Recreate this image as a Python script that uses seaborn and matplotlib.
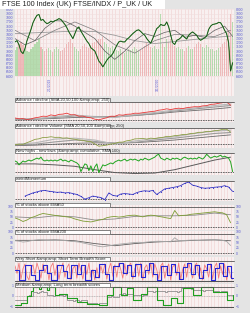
import numpy as np
import pandas as pd
import matplotlib
matplotlib.use("Agg")
import matplotlib.pyplot as plt
from matplotlib.patches import Rectangle
from matplotlib.lines import Line2D
import seaborn as sns

# ---- values ----
title = "FTSE 100 Index (UK) FTSE/INDX / P_UK / UK"
panel_titles = ["Advance / decline (SMA 20,50,100 &amp;amp; 250)",
                "Advance / decline Volume (SMA 20,50,100 &amp;amp; 250)",
                "New highs - new lows (&amp;amp; cumulative, SMA 100)",
                "weirdMomentum",
                "% of stocks above EMA50",
                "% of stocks above EMA200",
                "Very Short &amp;amp; Short Term Breadth Score",
                "Medium &amp;amp; Long term breadth scores"]
date_labels = ["2/1/2019", "1/1/2020"]
date_idx = [17.5, 71.5]

price = [7220, 7250, 7150, 6990, 6940, 7060, 7250, 7380, 7520, 7680,
         7780, 7860, 7880, 7740, 7760, 7700, 7660, 7680, 7720, 7700,
         7730, 7750, 7780, 7760, 7700, 7640, 7560, 7460, 7380, 7300,
         7420, 7540, 7580, 7480, 7400, 7320, 7240, 7180, 7080, 7040,
         7000, 6880, 6760, 6700, 6620, 6700, 6780, 6840, 6880, 6940,
         7040, 7140, 7220, 7240, 7220, 7220, 7280, 7320, 7370, 7420,
         7460, 7500, 7510, 7470, 7420, 7380, 7300, 7240, 7190, 7300,
         7420, 7540, 7580, 7640, 7620, 7620, 7700, 7580, 7380, 7200,
         7160, 7260, 7280, 7320, 7380, 7330, 7290, 7380, 7430, 7460,
         7420, 7380, 7300, 7260, 7290, 7320, 7360, 7520, 7600, 7640,
         7650, 7660, 7690, 7680, 7600, 7500, 7420, 7200, 6520, 6720]
volume = [620, 700, 760, 820, 740, 650, 600, 580, 640, 700,
          760, 820, 900, 700, 650, 600, 640, 680, 620, 580,
          640, 700, 660, 600, 620, 680, 760, 820, 880, 800,
          700, 640, 600, 660, 720, 760, 700, 680, 740, 800,
          820, 860, 900, 880, 940, 820, 760, 700, 680, 720,
          660, 620, 600, 640, 580, 560, 600, 640, 620, 660,
          700, 640, 600, 620, 680, 720, 800, 760, 700, 680,
          720, 640, 660, 1480, 760, 700, 900, 820, 880, 760,
          720, 680, 700, 660, 640, 600, 680, 720, 660, 640,
          700, 760, 820, 780, 700, 680, 740, 700, 660, 640,
          600, 620, 680, 700, 760, 820, 900, 1100, 1500, 1300]
ma_short = [7300, 7150, 7250, 7550, 7730, 7720, 7600, 7450, 7300, 7000, 6800, 7000,
            7250, 7420, 7350, 7450, 7500, 7330, 7380, 7330, 7500, 7600, 7350]
ma_mid = [7500, 7250, 7500, 7700, 7500, 7150, 6950, 7250, 7400, 7380, 7350, 7500]
ma_long = [7420, 7440, 7460, 7480, 7470, 7380, 7250, 7180, 7230, 7280, 7330, 7360]

ad_line = [4, 3.2, 3.4, 2.4, 3.1, 4.2, 4.8, 5.8, 5.6, 7.1,
           6.3, 7.6, 7.9, 8.8, 7.2, 7.3, 5.8, 5.9, 4.7, 4.2,
           2.8, 2.2, 3.3, 4.3, 5.8, 5.7, 7.2, 6.8, 7.7, 7.9,
           8.8, 8.7, 9.3, 9.8, 10.4, 10.8, 11.8, 12.3, 13.2, 12.4,
           13.3, 13.8, 13.4, 14.3, 14.8, 15.3, 15.2, 16.1, 16.4, 17.6,
           17.9, 18.7, 19.3, 20.1, 16.8]
ad_ma250 = [2, 2.8, 3.6, 4.5, 5, 5.5, 6.5, 8, 10, 11.5, 13, 14.5]
ad_ma100 = [3, 3, 4.5, 6, 5.5, 5, 6.5, 8.5, 11, 13, 15, 16.5]
ad_ma50 = [3.5, 3.2, 5.5, 7, 5, 4.5, 7.5, 9.5, 12, 14, 16.5, 18]

adv_line = [3.0, 3.6, 3.4, 5.2, 6.8, 8.7, 9.3, 10.7, 10.8, 11.5,
            10.8, 10.9, 10.0, 10.3, 9.3, 8.8, 8.0, 7.7, 6.6, 6.4,
            3.8, 1.4, 2.0, 2.6, 3.7, 4.3, 5.7, 5.8, 7.2, 7.8,
            9.2, 9.4, 9.7, 9.0, 10.0, 9.5, 10.4, 10.8, 11.9, 11.8,
            12.7, 13.0, 13.9, 14.0, 15.0, 15.2, 16.2, 16.3, 17.2, 17.2,
            18.0, 18.3, 19.4, 19.5, 16.5]
adv_ma250 = [2, 2.5, 3.5, 4.5, 5, 4.8, 5.2, 6.5, 8, 10, 12, 13.5]
adv_ma100 = [3, 3.5, 6, 8, 6.5, 4.5, 5.5, 8, 10, 12.5, 15, 16]
adv_ma50 = [3.5, 5, 9, 10, 8, 3.5, 7, 9.5, 11.5, 15, 17.5, 18.5]

hl_diff = [13, 12, 9, 11, 13, 12, 13, 14, 13, 14,
           15, 16, 15, 17, 14, 13, 14, 13, 14, 13,
           14, 13, 14, 15, 13, 14, 13, 12, 14, 13,
           12, 11, 9, 2, 6, 10, 9, 3, 8, 2,
           7, 10, 1, 5, 9, 8, 9, 10, 11, 10,
           12, 13, 14, 13, 14, 15, 13, 14, 15, 14,
           15, 14, 13, 15, 14, 16, 15, 14, 15, 16,
           17, 19, 20, 16, 15, 14, 16, 15, 14, 16,
           15, 16, 15, 14, 16, 17, 16, 15, 16, 15,
           16, 15, 17, 16, 15, 17, 20, 18, 16, 17,
           18, 17, 18, 19, 17, 18, 17, 16, 12, 2]
hl_cum = [10, 10, 9, 7.5, 4, 1, 0, 0.5, 4, 9, 14, 17]

momentum = [5.3, 7.0, 8.7, 9.8, 11.0, 11.3, 10.5, 10.0, 9.3, 9.6,
            8.7, 9.0, 8.0, 7.0, 5.0, 2.0, 3.5, 5.3, 4.5, 3.7,
            1.5, 8.7, 6.0, 5.3, 7.5, 8.0, 7.5, 7.0, 9.0, 10.3,
            11.0, 10.5, 11.3, 7.0, 10.0, 13.0, 13.7, 14.5, 15.3, 16.5,
            19.0, 20.3, 17.0, 16.0, 14.5, 13.7, 14.0, 14.5, 15.0, 15.3,
            16.5, 15.0, 10.3]

pct_ema50 = [45, 38, 28, 35, 46, 52, 60, 66, 63, 60,
             57, 55, 52, 50, 47, 40, 35, 30, 28, 26,
             30, 35, 38, 46, 50, 52, 49, 51, 55, 57,
             58, 54, 50, 55, 58, 56, 52, 49, 45, 42,
             80, 55, 57, 58, 62, 64, 66, 68, 70, 72,
             74, 71, 69, 60, 22]
pct_ema50_avg = [50, 45, 55, 50, 35, 40, 52, 55, 55, 58, 68, 60]
pct_ema200 = [58, 56, 52, 54, 58, 61, 63, 62, 60, 59,
              60, 61, 60, 58, 55, 54, 52, 48, 44, 40,
              36, 32, 30, 33, 36, 40, 42, 44, 46, 48,
              50, 51, 50, 52, 54, 55, 56, 55, 54, 53,
              72, 58, 59, 60, 61, 61, 60, 61, 62, 63,
              63, 62, 60, 55, 36]
pct_ema200_avg = [60, 60, 62, 58, 45, 35, 45, 52, 56, 60, 62, 58]

vshort_score = [0.6, -0.2, 0.9, -0.8, 0.3, 0.8, -0.5, -0.9, 0.4, 0.7,
                -0.3, 0.9, 0.2, -0.7, 0.8, -0.1, 0.6, -0.9, 0.5, 0.9,
                -0.4, 0.7, -0.8, 0.2, 0.9, -0.6, 0.4, 0.8, -0.9, 0.3,
                0.6, -0.7, 0.9, 0.1, -0.8, 0.5, -0.3, 0.9, -0.6, 0.2,
                -0.9, 0.4, -0.7, 0.6, -0.2, 0.8, -0.8, 0.3, 0.9, -0.5,
                0.7, -0.6, 0.9, 0.2, -0.7, 0.8, -0.4, 0.6, 0.9, -0.8,
                0.3, 0.8, -0.5, 0.9, -0.9, 0.4, 0.7, -0.3, 0.9, -0.6,
                0.8, 0.2, -0.8, 0.6, 0.9, -0.7, 0.3, 0.8, -0.9, 0.5,
                0.7, -0.4, 0.9, -0.8, 0.2, 0.8, -0.6, 0.9, 0.1, -0.7,
                0.6, 0.9, -0.5, 0.4, -0.9, 0.7, 0.3, -0.6, 0.8, -0.8,
                0.5, 0.9, -0.7, 0.6, -0.3, 0.8, -0.9, 0.4, -0.6, -0.8]
short_score = [0.2, 0.2, -0.9, -0.9, -0.9, 0.7, 0.7, 0.7, -0.4, -0.4,
               -0.9, -0.9, 0.2, 0.2, 0.7, 0.7, -0.2, -0.2, -0.9, -0.9,
               -0.9, 0.7, 0.7, 0.7, 0.1, 0.1, -0.7, -0.7, 0.7, 0.7,
               0.7, -0.3, -0.3, 0.7, 0.7, -0.9, -0.9, -0.9, 0.2, 0.2,
               -0.6, -0.6, 0.8, 0.8, 0.8, -0.3, -0.3, -0.9, -0.9, 0.6,
               0.6, 0.6, 0.9, 0.9, -0.2, -0.2, 0.7, 0.7, -0.5, -0.5,
               0.8, 0.8, 0.8, -0.6, -0.6, 0.2, 0.2, 0.9, 0.9, -0.3,
               -0.3, -0.9, -0.9, 0.6, 0.6, 0.6, -0.4, -0.4, 0.8, 0.8,
               -0.1, -0.1, -0.8, -0.8, 0.5, 0.5, 0.9, 0.9, -0.3, -0.3,
               0.7, 0.7, -0.7, -0.7, 0.2, 0.2, 0.8, 0.8, -0.9, -0.9,
               0.4, 0.4, 0.9, 0.9, -0.5, -0.5, 0.6, 0.6, -0.7, -0.7]

medium_score = [-0.86, -0.86, -0.86, -0.7, -0.7, -0.7, 0.0, 0.0, 0.4, 0.84,
                0.84, 0.84, 0.6, 0.84, 0.84, 0.84, 0.5, 0.84, 0.84, 0.84,
                0.07, 0.07, 0.2, 0.2, 0.2, 0.2, -0.25, -0.25, -0.25, -0.25,
                -0.25, -0.56, -0.56, -0.56, -0.56, -0.56, -0.8, -0.8, -0.8, -0.8,
                -0.8, -0.8, -0.86, -0.86, -0.86, -0.86, 0.07, 0.07, 0.07, 0.84,
                0.84, 0.84, 0.84, 0.07, 0.07, 0.07, 0.7, 0.7, 0.7, -0.4,
                -0.4, -0.4, -0.4, 0.2, 0.2, 0.2, 0.84, 0.84, 0.84, 0.84,
                0.84, -0.4, -0.4, -0.4, -0.86, -0.86, -0.86, -0.86, -0.25, -0.25,
                -0.25, -0.7, -0.7, -0.7, 0.7, 0.7, 0.7, 0.7, 0.7, 0.07,
                0.07, 0.07, 0.07, 0.84, 0.84, 0.84, 0.84, 0.84, 0.84, 0.38,
                0.38, 0.38, 0.38, 0.38, 0.38, 0.38, -0.4, -0.4, -0.4, 0.07]
long_score = [-0.4, -0.4, -0.4, -0.4, -0.35, -0.4, 0.0, 0.05, 0.0, 0.38,
              0.38, 0.3, 0.38, 0.45, 0.38, 0.38, 0.07, 0.1, 0.07, 0.0,
              0.07, 0.07, 0.1, 0.07, 0.0, 0.07, -0.4, -0.35, -0.4, -0.45,
              -0.4, -0.4, -0.45, -0.4, -0.4, -0.4, -0.7, -0.7, -0.65, -0.7,
              -0.7, -0.75, -0.7, -0.7, -0.7, -0.7, -0.07, -0.07, 0.0, -0.07,
              -0.07, -0.1, 0.2, 0.2, 0.25, 0.2, 0.2, 0.15, 0.2, 0.07,
              0.07, 0.1, 0.07, 0.0, 0.07, 0.07, 0.4, 0.45, 0.4, 0.35,
              0.4, 0.4, 0.45, 0.4, 0.4, 0.38, 0.4, 0.45, 0.4, 0.4,
              0.4, 0.38, 0.4, 0.7, 0.7, 0.75, 0.7, 0.7, 0.65, 0.5,
              0.5, 0.55, 0.5, 0.5, 0.45, 0.5, 0.5, 0.55, 0.5, 0.4,
              0.4, 0.4, 0.38, 0.45, 0.4, 0.4, 0.07, 0.07, 0.1, 0.07]

# x positions (trading-day index)
x_day = np.arange(len(price))
x_half = np.arange(0, 110, 2)
x_mom = np.arange(5, 110, 2)
x_coarse = list(range(0, 101, 10)) + [108]
x_ma_short = list(range(0, 106, 5)) + [109]

# ---- style ----
BG = "#e4e4e4"
PANEL = "#f8f0f0"
VGRID = "#f1d2d2"
TICK = "#5a5ad2"
DARK = "#555555"
W, H = 250, 313

sns.set_style("white")
plt.rcParams["font.family"] = ["Liberation Sans", "DejaVu Sans"]

fig = plt.figure(figsize=(W / 100, H / 100), dpi=100, facecolor=BG)


def make_ax(top, bottom, left=15, right=234):
    ax = fig.add_axes([left / W, 1 - bottom / H, (right - left) / W, (bottom - top) / H])
    ax.set_facecolor(PANEL)
    ax.set_xlim(0, 109.5)
    ax.set_xticks([])
    ax.set_xticks(np.arange(0.8, 110, 1.65), minor=True)
    ax.grid(True, which="minor", axis="x", color=VGRID, lw=0.45)
    ax.set_axisbelow(True)
    ax.tick_params(which="both", length=0, labelsize=2.4, labelcolor=TICK, pad=1)
    for s in ax.spines.values():
        s.set_visible(False)
    ax.set_yticks([])
    return ax


def label_box(top, text):
    fig.patches.append(Rectangle((15 / W, 1 - (top + 4) / H), 95 / W, 4 / H,
                                 transform=fig.transFigure, facecolor="white",
                                 edgecolor=DARK, lw=0.5, zorder=5))
    fig.lines.append(Line2D([110 / W, 234 / W], [1 - (top + 4) / H] * 2,
                            transform=fig.transFigure, color=DARK, lw=0.6, zorder=5))
    fig.text(16.5 / W, 1 - (top + 2.1) / H, text, fontsize=3.0, color="#222222",
             va="center", ha="left", zorder=6)


def lp(ax, x, y, color, lw=0.6, **kw):
    sns.lineplot(x=x, y=y, ax=ax, color=color, lw=lw, estimator=None, **kw)


# ---- title ----
fig.patches.append(Rectangle((0, 1 - 8.5 / H), 165 / W, 8.5 / H, transform=fig.transFigure,
                             facecolor="white", edgecolor="none", zorder=5))
fig.text(2 / W, 1 - 4.4 / H, title, fontsize=5.2, color="#222222", va="center", zorder=6)

# ---- main price panel ----
ax = make_ax(8.5, 96)
ax.set_ylim(5919, 8024)
ax.set_yticks(range(6400, 8001, 100))
ax.tick_params(labelleft=True, labelright=True)
ax.grid(True, which="major", axis="y", color="#f0dede", lw=0.4)
vol_col = ["#9ad495" if i == 0 or price[i] >= price[i - 1] else "#eba5a5" for i in range(len(price))]
ax.bar(x_day, volume, bottom=6400, width=0.55, color=vol_col, alpha=0.7, lw=0)
lp(ax, x_coarse, ma_long, "#9a9a9a", lw=0.6)
lp(ax, x_coarse, ma_mid, "#7c7c7c", lw=0.5)
lp(ax, x_ma_short, ma_short, "#5e5e5e", lw=0.5)
lp(ax, x_day, price, "#35a335", lw=0.8)
lp(ax, x_day, price, "#111111", lw=0.3)
for lab, d in zip(date_labels, date_idx):
    ax.text(d, 6370, lab, rotation=90, fontsize=2.4, color=TICK, ha="center", va="top")

# ---- advance / decline ----
ax = make_ax(101.7, 122.5)
ax.set_ylim(-0.5, 20.3)
ax.axhline(2, color=DARK, lw=0.6, ls=(0, (2, 1)))
lp(ax, x_coarse, ad_ma250, "#6a6a6a", lw=0.6)
lp(ax, x_coarse, ad_ma100, "#9a9a9a", lw=0.8)
lp(ax, x_coarse, ad_ma50, "#b8b8b8", lw=0.8)
lp(ax, x_half, ad_line, "#e83a3a", lw=0.6)
label_box(97.7, panel_titles[0])

# ---- advance / decline volume ----
ax = make_ax(128.3, 148)
ax.set_ylim(-0.5, 20.5)
ax.axhline(4, color=DARK, lw=0.6, ls=(0, (2, 1)))
lp(ax, x_coarse, adv_ma250, "#6a6a6a", lw=0.6)
lp(ax, x_coarse, adv_ma100, "#9a9a9a", lw=0.8)
lp(ax, x_coarse, adv_ma50, "#b8b8b8", lw=0.8)
lp(ax, x_half, adv_line, "#8c9e45", lw=0.6)
label_box(124.3, panel_titles[1])

# ---- new highs - new lows ----
ax = make_ax(153.3, 174.5)
ax.set_ylim(-1, 21)
ax.axhline(1.5, color=DARK, lw=0.6, ls=(0, (2, 1)))
lp(ax, x_coarse, hl_cum, "#5a5a5a", lw=0.7)
lp(ax, x_day, hl_diff, "#1fa51f", lw=0.7)
label_box(149.3, panel_titles[2])

# ---- momentum ----
ax = make_ax(181, 201)
ax.set_ylim(0, 21.5)
ax.axhline(2.5, color=DARK, lw=0.6, ls=(0, (2, 1)))
lp(ax, x_mom, momentum, "#3434c4", lw=0.6, marker="o", markersize=0.8, markeredgewidth=0)
label_box(177, panel_titles[3])

# ---- % above EMA50 ----
ax = make_ax(205, 230)
ax.set_ylim(-12.3, 106.2)
ax.set_yticks([0, 25, 50, 75, 100])
ax.tick_params(labelleft=True, labelright=True)
ax.axhline(0, color=DARK, lw=0.6, ls=(0, (2, 1)))
lp(ax, x_coarse, pct_ema50_avg, "#8a8a8a", lw=0.6)
lp(ax, x_half, pct_ema50, "#7d9c34", lw=0.6)
label_box(203.3, panel_titles[4])

# ---- % above EMA200 ----
ax = make_ax(231, 255)
ax.set_ylim(-7.9, 103.2)
ax.set_yticks([0, 25, 50, 75, 100])
ax.tick_params(labelleft=True, labelright=True)
ax.axhline(0, color=DARK, lw=0.6, ls=(0, (2, 1)))
lp(ax, x_coarse, pct_ema200_avg, "#5e5e5e", lw=0.6)
lp(ax, x_half, pct_ema200, "#a8a8a8", lw=0.6)
label_box(230.3, panel_titles[5])

# ---- very short / short breadth ----
ax = make_ax(257, 283)
ax.set_ylim(-1.21, 1.53)
ax.axhline(-1.0, color=DARK, lw=0.8)
ax.axhline(0, color="#999999", lw=0.4, ls=(0, (2, 1)))
lp(ax, x_day, vshort_score, "#f27a7a", lw=0.6)
lp(ax, x_day, short_score, "#2424d4", lw=0.8, drawstyle="steps-post")
label_box(256.7, panel_titles[6])

# ---- medium / long breadth ----
ax = make_ax(283.5, 309)
ax.set_ylim(-1.23, 1.14)
ax.set_yticks([-1, 0, 1])
ax.tick_params(labelleft=True, labelright=True)
ax.axhline(-1.0, color=DARK, lw=0.8)
ax.axhline(0, color="#999999", lw=0.4, ls=(0, (2, 1)))
lp(ax, x_day, long_score, "#8e8e8e", lw=0.6, drawstyle="steps-post")
lp(ax, x_day, medium_score, "#1f9f1f", lw=0.8, drawstyle="steps-post")
label_box(283.3, panel_titles[7])

for a in fig.axes:
    a.set_xlabel("")
    a.set_ylabel("")

fig.savefig("out.png", dpi=100, facecolor=BG)
